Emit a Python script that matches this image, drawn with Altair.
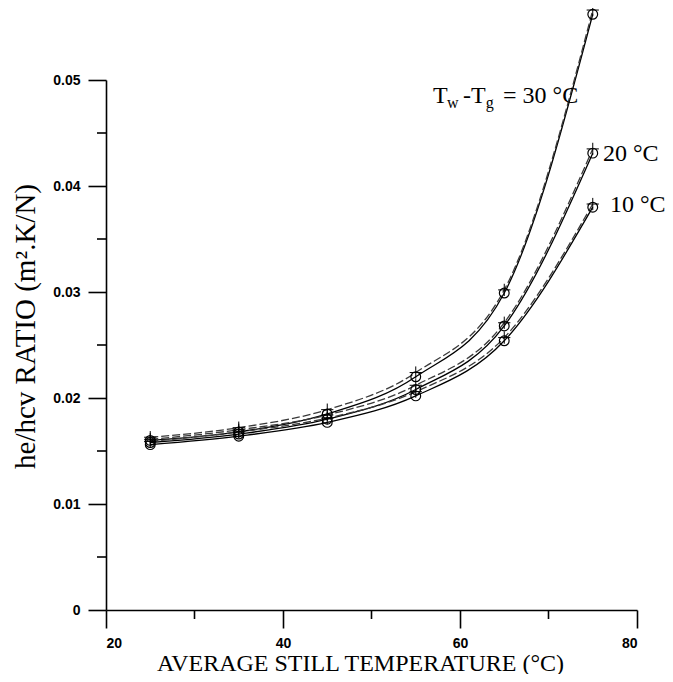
import altair as alt
import pandas as pd

# ---- data ----
temps = [25, 35, 45, 55, 65, 75]

solid_30 = [0.0160, 0.0168, 0.0185, 0.0220, 0.0299, 0.0562]
dashed_30 = [0.0163, 0.0172, 0.0189, 0.0224, 0.0302, 0.0566]
solid_20 = [0.0158, 0.0166, 0.0180, 0.0208, 0.0268, 0.0431]
dashed_20 = [0.0161, 0.0170, 0.0184, 0.0212, 0.0271, 0.0435]
solid_10 = [0.0156, 0.0164, 0.0177, 0.0202, 0.0254, 0.0380]
dashed_10 = [0.0159, 0.0168, 0.0181, 0.0206, 0.0257, 0.0383]

series_names = ["30", "20", "10"]

x_major = [20, 40, 60, 80]
x_minor = [30, 50, 70]
y_major = [0, 0.01, 0.02, 0.03, 0.04, 0.05]
y_minor = [0.005, 0.015, 0.025, 0.035, 0.045]

# annotation text (main size and subscript size)
main_text = ["T", "-T", "= 30 °C", "20 °C", "10 °C"]
main_x = [56.95, 60.34, 64.86, 76.16, 76.95]
main_y = [0.04783, 0.04783, 0.04783, 0.04239, 0.03755]
sub_text = ["w", "g"]
sub_x = [58.53, 62.90]
sub_y = [0.04740, 0.04740]

rows = []
for name, s, d in zip(series_names, [solid_30, solid_20, solid_10], [dashed_30, dashed_20, dashed_10]):
    for t, a, b in zip(temps, s, d):
        rows.append({"T": t, "series": name, "solid": a, "dashed": b})
df = pd.DataFrame(rows)

main_df = pd.DataFrame({"x": main_x, "y": main_y, "text": main_text})
sub_df = pd.DataFrame({"x": sub_x, "y": sub_y, "text": sub_text})
xminor_df = pd.DataFrame({"v": x_minor})
yminor_df = pd.DataFrame({"v": y_minor})

SERIF = "Liberation Serif"
SANS = "Liberation Sans"

x_scale = alt.Scale(domain=[20, 80], nice=False, zero=False)
y_scale = alt.Scale(domain=[0, 0.05], nice=False)

x_axis = alt.Axis(
    values=x_major,
    title="AVERAGE  STILL TEMPERATURE (°C)",
    titleFont=SERIF, titleFontSize=24, titleFontWeight="normal", titleColor="black",
    titleX=254, titleY=60, titleBaseline="alphabetic", titleAlign="center",
    labelFont=SANS, labelFontSize=14, labelFontWeight="bold", labelColor="black",
    labelPadding=8, format="d",
    tickSize=18, tickColor="black", tickWidth=1.6,
    domainColor="black", domainWidth=1.6,
    grid=False, labelOverlap=False,
)
y_axis = alt.Axis(
    values=y_major,
    title="he/hcv RATIO  (m².K/N)",
    titleFont=SERIF, titleFontSize=29, titleFontWeight="normal", titleColor="black",
    titleX=-66, titleY=246, titleAngle=270, titleBaseline="bottom", titleAlign="center",
    labelFont=SANS, labelFontSize=14, labelFontWeight="bold", labelColor="black",
    labelPadding=8, format=".2~f",
    tickSize=18, tickColor="black", tickWidth=1.6,
    domainColor="black", domainWidth=1.6,
    grid=False, labelOverlap=False,
)

base = alt.Chart(df)

solid = base.mark_line(interpolate="monotone", color="black", strokeWidth=1.3).encode(
    x=alt.X("T:Q", scale=x_scale, axis=x_axis),
    y=alt.Y("solid:Q", scale=y_scale, axis=y_axis),
    detail="series:N",
)
dashed = base.mark_line(interpolate="monotone", color="#3a3a3a", strokeWidth=1.3,
                        strokeDash=[8, 3]).encode(
    x=alt.X("T:Q", scale=x_scale),
    y=alt.Y("dashed:Q", scale=y_scale),
    detail="series:N",
)
circles = base.mark_point(shape="circle", size=95, filled=False, color="black",
                          strokeWidth=1.2, opacity=1).encode(
    x=alt.X("T:Q", scale=x_scale),
    y=alt.Y("solid:Q", scale=y_scale),
)
pluses = base.mark_point(shape="M-1,0H1M0,-1V1", size=150, filled=False, color="black",
                         strokeWidth=1.0, opacity=1).encode(
    x=alt.X("T:Q", scale=x_scale),
    y=alt.Y("dashed:Q", scale=y_scale),
)

# minor ticks (shorter, outward)
x_minor_ticks = alt.Chart(xminor_df).mark_rule(color="black", strokeWidth=1.6, clip=False).encode(
    x=alt.X("v:Q", scale=x_scale),
    y=alt.value(530),
    y2=alt.value(539),
)
y_minor_ticks = alt.Chart(yminor_df).mark_rule(color="black", strokeWidth=1.6, clip=False).encode(
    y=alt.Y("v:Q", scale=y_scale),
    x=alt.value(-9),
    x2=alt.value(0),
)

main_lbl = alt.Chart(main_df).mark_text(
    font=SERIF, fontSize=24, align="left", baseline="alphabetic", color="black"
).encode(
    x=alt.X("x:Q", scale=x_scale),
    y=alt.Y("y:Q", scale=y_scale),
    text="text:N",
)
sub_lbl = alt.Chart(sub_df).mark_text(
    font=SERIF, fontSize=16, align="left", baseline="alphabetic", color="black"
).encode(
    x=alt.X("x:Q", scale=x_scale),
    y=alt.Y("y:Q", scale=y_scale),
    text="text:N",
)

chart = alt.layer(
    solid, dashed, circles, pluses, x_minor_ticks, y_minor_ticks, main_lbl, sub_lbl
).properties(
    width=531,
    height=530,
    autosize="none",
    padding={"left": 98, "top": 72, "right": 28, "bottom": 64},
    background="white",
).configure_view(stroke=None)

chart.save("out.html", embed_options={"renderer": "svg", "actions": False})
